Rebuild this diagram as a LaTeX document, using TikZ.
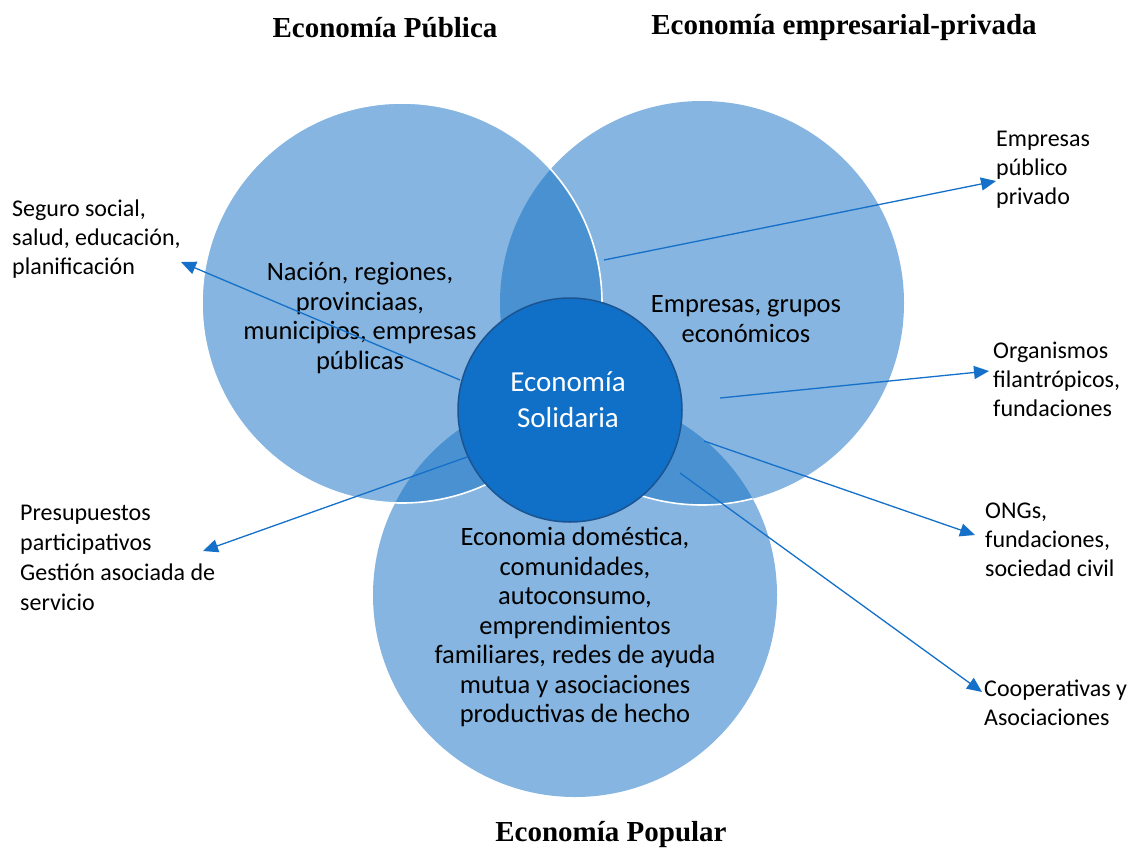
\documentclass[tikz,border=0pt]{standalone}
\usepackage{fontspec}
\setmainfont{Carlito}
\newfontfamily\titlefont{Liberation Serif}
\usetikzlibrary{arrows.meta}
\definecolor{lightb}{RGB}{133,181,224}
\definecolor{lensb}{RGB}{74,145,209}
\definecolor{solb}{RGB}{16,111,198}
\definecolor{solborder}{RGB}{27,84,145}
\definecolor{arrowb}{RGB}{20,112,200}
\begin{document}
\begin{tikzpicture}[x=1pt,y=-1pt,
  title/.style={font=\titlefont\bfseries\fontsize{29}{34}\selectfont, inner sep=0},
  lbl/.style={font=\fontsize{24}{29}\selectfont, align=left, anchor=west, inner sep=0},
  inlbl/.style={font=\fontsize{26.5}{29.5}\selectfont, align=center, inner sep=0},
  conn/.style={draw=arrowb, line width=1.3pt, -{Triangle[length=15pt,width=13pt]}},
  wline/.style={draw=white, line width=1.6pt}
]
\useasboundingbox[fill=white] (0,0) rectangle (1131,852);
% circle centres
\coordinate (cP) at (402,303);
\coordinate (cE) at (702,303);
\coordinate (cO) at (575,595);
% base discs
\fill[lightb] (cO) circle[radius=202pt];
\fill[lightb] (cE) circle[radius=202pt];
\fill[lightb] (cP) circle[radius=200pt];
% overlaps
\begin{scope}
  \clip (cP) circle[radius=200pt];
  \fill[lensb] (cE) circle[radius=202pt];
  \fill[lensb] (cO) circle[radius=202pt];
\end{scope}
\begin{scope}
  \clip (cE) circle[radius=202pt];
  \fill[lensb] (cO) circle[radius=202pt];
\end{scope}
% white outlines
\begin{scope}
  \clip (cO) circle[radius=202pt];
  \draw[wline] (cE) circle[radius=202pt];
\end{scope}
\draw[wline] (cP) circle[radius=200pt];
% central circle
\node[circle, fill=solb, draw=solborder, line width=1.5pt, minimum size=224pt, inner sep=0] (sol) at (570,410) {};
\node[font=\fontsize{29}{36}\selectfont, text=white, align=center, inner sep=0] (solt) at (568,400) {Economía\\Solidaria};
% titles
\node[title] (tP) at (385,28) {Economía Pública};
\node[title] (tE) at (844,28) {Economía empresarial-privada};
\node[title] (tO) at (611,834) {Economía Popular};
% texts inside circles
\node[inlbl] (inP) at (360,318) {Nación, regiones,\\provinciaas,\\municipios, empresas\\públicas};
\node[inlbl] (inE) at (746,319) {Empresas, grupos\\económicos};
\node[inlbl] (inO) at (575,627) {Economia doméstica,\\comunidades,\\autoconsumo,\\emprendimientos\\familiares, redes de ayuda\\mutua y asociaciones\\productivas de hecho};
% outside labels
\node[lbl] (l1) at (12,239) {Seguro social,\\salud, educación,\\planificación};
\node[lbl] (l2) at (996,170) {Empresas\\público\\privado};
\node[lbl] (l3) at (993,379) {Organismos\\filantrópicos,\\fundaciones};
\node[lbl] (l4) at (985,540) {ONGs,\\fundaciones,\\sociedad civil};
\node[lbl] (l5) at (984,703) {Cooperativas y\\Asociaciones};
\node[lbl, font=\fontsize{24}{30}\selectfont] (l6) at (20,558) {Presupuestos\\participativos\\Gestión asociada de\\servicio};
% connector ends
\coordinate (s1) at (460,380);  \coordinate (e1) at (181,262);
\coordinate (s2) at (604,260);  \coordinate (e2) at (996,181);
\coordinate (s3) at (720,398);  \coordinate (e3) at (989,371);
\coordinate (s4) at (704,441);  \coordinate (e4) at (975,535);
\coordinate (s5) at (680,473);  \coordinate (e5) at (982,692);
\coordinate (s6) at (467,457);  \coordinate (e6) at (203,551);
\draw[conn] (s1) -- (e1);
\draw[conn] (s2) -- (e2);
\draw[conn] (s3) -- (e3);
\draw[conn] (s4) -- (e4);
\draw[conn] (s5) -- (e5);
\draw[conn] (s6) -- (e6);
\end{tikzpicture}
\end{document}
